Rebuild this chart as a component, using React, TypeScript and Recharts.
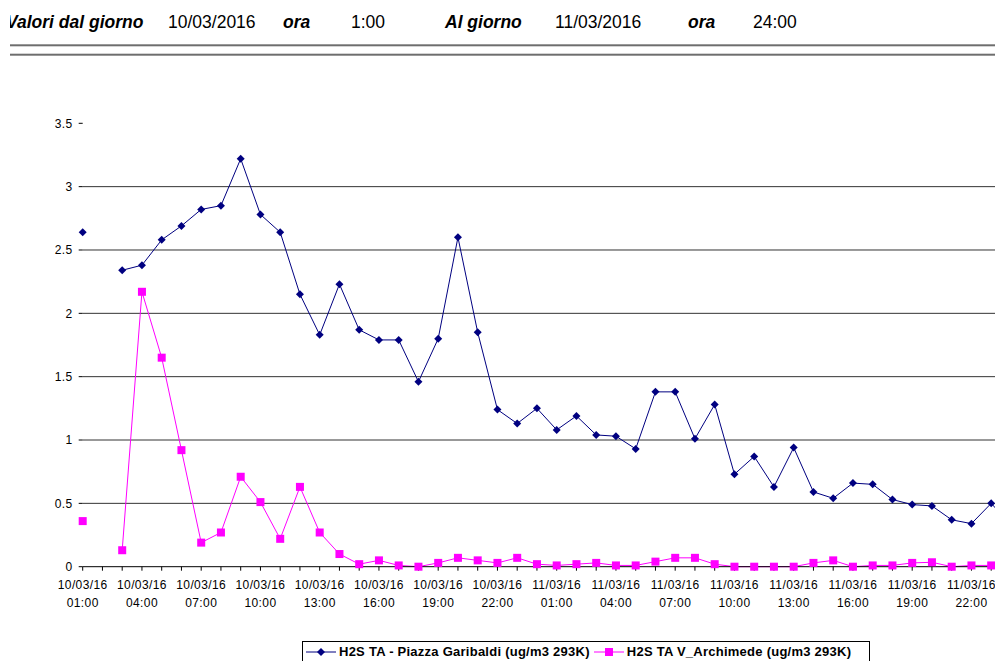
import { LineChart, Line, XAxis, YAxis, CartesianGrid } from "recharts";

const DAYS = ["10/03/16", "11/03/16"];
const HOURS = [
  "01:00", "02:00", "03:00", "04:00", "05:00", "06:00", "07:00", "08:00",
  "09:00", "10:00", "11:00", "12:00", "13:00", "14:00", "15:00", "16:00",
  "17:00", "18:00", "19:00", "20:00", "21:00", "22:00", "23:00", "24:00",
];

const SERIES_A = "H2S TA - Piazza Garibaldi (ug/m3 293K)";
const SERIES_B = "H2S TA V_Archimede (ug/m3 293K)";

// hourly values, 10/03 01:00 -> 11/03 24:00 (null = missing reading)
const garibaldi = [
  2.64, null, 2.34, 2.38, 2.58, 2.69, 2.82, 2.85, 3.22, 2.78, 2.64, 2.15,
  1.83, 2.23, 1.87, 1.79, 1.79, 1.46, 1.8, 2.6, 1.85, 1.24, 1.13, 1.25,
  1.08, 1.19, 1.04, 1.03, 0.93, 1.38, 1.38, 1.01, 1.28, 0.73, 0.87, 0.63,
  0.94, 0.59, 0.54, 0.66, 0.65, 0.53, 0.49, 0.48, 0.37, 0.34, 0.5, 0.33,
];
const archimede = [
  0.36, null, 0.13, 2.17, 1.65, 0.92, 0.19, 0.27, 0.71, 0.51, 0.22, 0.63,
  0.27, 0.1, 0.02, 0.05, 0.01, 0.0, 0.03, 0.07, 0.05, 0.03, 0.07, 0.02,
  0.01, 0.02, 0.03, 0.01, 0.01, 0.04, 0.07, 0.07, 0.02, 0.0, 0.0, 0.0,
  0.0, 0.03, 0.05, 0.0, 0.01, 0.01, 0.03, 0.035, 0.0, 0.01, 0.01, 0.0,
];

const Y_TICKS = [0, 0.5, 1, 1.5, 2, 2.5, 3, 3.5];
const GRID_VALUES = [0.5, 1, 1.5, 2, 2.5, 3];

const NAVY = "#000080";
const MAGENTA = "#ff00ff";
const FONT = "'Liberation Sans', Arial, sans-serif";

const rows = DAYS.flatMap((d, di) =>
  HOURS.map((h, hi) => {
    const i = di * HOURS.length + hi;
    return { label: `${d} ${h}`, garibaldi: garibaldi[i], archimede: archimede[i] };
  })
);

function Diamond(props: any) {
  const { cx, cy, index, value } = props;
  if (value == null || cx == null || cy == null) return <g key={`dia-${index}`} />;
  return (
    <polygon
      key={`dia-${index}`}
      points={`${cx},${cy - 4} ${cx + 4},${cy} ${cx},${cy + 4} ${cx - 4},${cy}`}
      fill={NAVY}
    />
  );
}

function Square(props: any) {
  const { cx, cy, index, value } = props;
  if (value == null || cx == null || cy == null) return <g key={`sq-${index}`} />;
  return <rect key={`sq-${index}`} x={cx - 4} y={cy - 4} width={8} height={8} fill={MAGENTA} />;
}

// two-line label on every third hour, bare tick otherwise
function HourTick(props: any) {
  const { x, y, index, payload } = props;
  if (index % 3 !== 0) return <g />;
  const [day, hour] = String(payload.value).split(" ");
  return (
    <text textAnchor="middle" fontSize={12} fill="#000" letterSpacing={0.4}>
      <tspan x={x} y={y + 16.3}>{day}</tspan>
      <tspan x={x} y={y + 34.3}>{hour}</tspan>
    </text>
  );
}

function Header() {
  const bold = { fontWeight: 700, fontStyle: "italic" as const };
  return (
    <svg width={985} height={60} style={{ position: "absolute", left: 10, top: 0 }}>
      <g fontSize={17.5} fill="#000">
        <text x={-4} y={28} {...bold}>Valori dal giorno</text>
        <text x={158} y={28}>10/03/2016</text>
        <text x={273} y={28} {...bold}>ora</text>
        <text x={341} y={28}>1:00</text>
        <text x={435} y={28} {...bold}>Al giorno</text>
        <text x={545} y={28}>11/03/2016</text>
        <text x={678} y={28} {...bold}>ora</text>
        <text x={743} y={28}>24:00</text>
      </g>
      <rect x={0} y={44.3} width={985} height={2} fill="#6e6e6e" />
      <rect x={0} y={53.7} width={985} height={2} fill="#6e6e6e" />
    </svg>
  );
}

function LegendBox() {
  const entry = { display: "flex", alignItems: "center", marginRight: 4 };
  return (
    <div
      style={{
        position: "absolute", left: 302, top: 641, width: 568, height: 30,
        border: "1px solid #000", boxSizing: "border-box", background: "#fff",
        display: "flex", alignItems: "flex-start", paddingLeft: 3, paddingTop: 2,
        fontSize: 13, fontWeight: 700, letterSpacing: 0.25, color: "#000", whiteSpace: "nowrap",
      }}
    >
      <div style={entry}>
        <svg width={30} height={14}>
          <line x1={0} y1={7} x2={30} y2={7} stroke={NAVY} strokeWidth={1} />
          <polygon points="15,3 19,7 15,11 11,7" fill={NAVY} />
        </svg>
        <span style={{ marginLeft: 3 }}>{SERIES_A}</span>
      </div>
      <div style={entry}>
        <svg width={30} height={14}>
          <line x1={0} y1={7} x2={30} y2={7} stroke={MAGENTA} strokeWidth={1} />
          <rect x={11} y={3} width={8} height={8} fill={MAGENTA} />
        </svg>
        <span style={{ marginLeft: 3 }}>{SERIES_B}</span>
      </div>
    </div>
  );
}

export default function App() {
  return (
    <div
      style={{
        position: "fixed", left: 0, top: 0, width: 995, height: 661,
        overflow: "hidden", background: "#fff", fontFamily: FONT,
      }}
    >
      <Header />
      <div style={{ position: "absolute", left: 0, top: 0 }}>
        <LineChart
          width={1030}
          height={661}
          data={rows}
          margin={{ top: 123.3, right: 19.05, bottom: 54.3, left: 0 }}
        >
          <CartesianGrid vertical={false} horizontalValues={GRID_VALUES} stroke="#333" />
          <XAxis
            dataKey="label"
            interval={0}
            height={40}
            tickSize={4}
            tickMargin={2}
            tick={<HourTick />}
            tickLine={{ stroke: "#000" }}
            axisLine={{ stroke: "#000" }}
          />
          <YAxis
            width={82.7}
            domain={[0, 3.5]}
            ticks={Y_TICKS}
            interval={0}
            axisLine={false}
            tickSize={4}
            tickMargin={6}
            tickLine={{ stroke: "#000" }}
            tick={{ fontSize: 12, fill: "#000", letterSpacing: 0.4 }}
          />
          <Line
            dataKey="garibaldi"
            name={SERIES_A}
            type="linear"
            stroke={NAVY}
            strokeWidth={1}
            dot={Diamond}
            activeDot={false}
            connectNulls={false}
            isAnimationActive={false}
          />
          <Line
            dataKey="archimede"
            name={SERIES_B}
            type="linear"
            stroke={MAGENTA}
            strokeWidth={1}
            dot={Square}
            activeDot={false}
            connectNulls={false}
            isAnimationActive={false}
          />
        </LineChart>
      </div>
      <LegendBox />
    </div>
  );
}
